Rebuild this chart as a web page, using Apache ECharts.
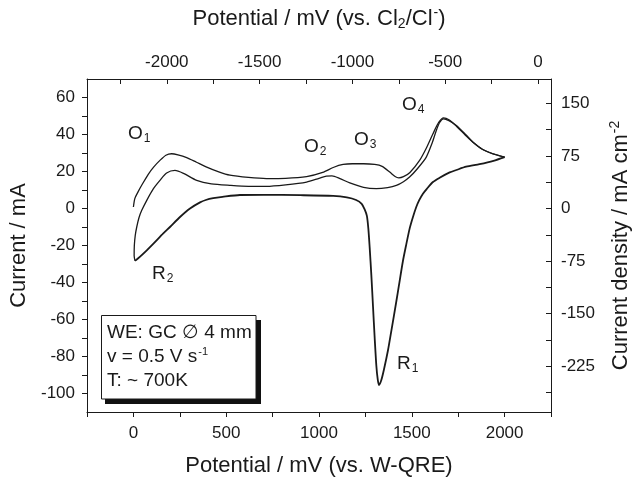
<!DOCTYPE html>
<html>
<head>
<meta charset="utf-8">
<script src="https://cdn.jsdelivr.net/npm/echarts@6/dist/echarts.min.js"></script>
<style>
  html, body { margin: 0; padding: 0; background: #fff; }
  #main { width: 635px; height: 478px; }
</style>
</head>
<body>
<div id="main"></div>
<script>
// first forward sweep (upper branch), potential mV vs W-QRE / current mA
var sweep1Forward = [
  [0, 0.8], [8, 5.5], [25, 9], [50, 13.5], [80, 18.5], [110, 22.5], [143, 26], [175, 28.8],
  [206, 29.6], [240, 29], [287, 27.5], [340, 25], [395, 22.4], [460, 19.8], [520, 18],
  [620, 16.8], [717, 16.2], [820, 16.3], [933, 17.2], [1020, 19.5], [1080, 22.3], [1130, 23.8],
  [1180, 24.2], [1240, 24.2], [1300, 23.8], [1340, 22.8], [1381, 19.7], [1410, 17.3],
  [1430, 16.6], [1455, 17.2], [1490, 19.5], [1542, 26], [1580, 33], [1614, 40.4], [1645, 46.5],
  [1671, 49], [1700, 48], [1740, 44.5], [1790, 39.5], [1829, 35.8], [1880, 32], [1937, 29.5],
  [2000, 27.8]
];
// reverse sweep (R1 and R2)
var sweepReverse = [
  [2000, 27.8], [1940, 25.8], [1865, 24], [1793, 22.6], [1740, 20.8], [1704, 19.5],
  [1650, 16.6], [1614, 14.3], [1580, 10.5], [1560, 8], [1540, 4.5], [1524, 0.8], [1505, -5],
  [1488, -11], [1470, -19.5], [1452, -28.5], [1430, -42], [1417, -50], [1390, -66],
  [1372, -76.5], [1350, -87], [1335, -93], [1323, -95.4], [1316, -92], [1309, -85],
  [1300, -70], [1291, -53], [1282, -36], [1273, -21], [1266, -11], [1258, -4], [1246, -0.5],
  [1230, 2.5], [1200, 4.6], [1150, 6], [1076, 6.8], [900, 7.2], [700, 7.4], [574, 7.3],
  [480, 6.3], [430, 5.6], [390, 4.6], [359, 3.3], [305, 0], [251, -4.6], [197, -10],
  [161, -13.5], [108, -19], [72, -22.6], [36, -26], [9, -28.3]
];
// second forward sweep (middle branch)
var sweep2Forward = [
  [9, -28.3], [4, -25.5], [5, -20], [10, -14.5], [18, -10], [30, -5], [45, -1], [72, 4.4],
  [108, 10.7], [143, 15.2], [179, 19.2], [224, 20.6], [270, 19], [341, 15.2], [420, 13.3],
  [520, 12.5], [620, 12], [717, 12], [820, 12.8], [933, 14.3], [1000, 16.3], [1040, 17.5],
  [1070, 17.6], [1110, 16.3], [1166, 13.8], [1240, 11.4], [1309, 10.7], [1370, 11.3],
  [1417, 12.5], [1455, 14.5], [1488, 17], [1530, 21.5], [1578, 27.8], [1610, 35.5],
  [1632, 42.2], [1650, 46.5], [1671, 48.5], [1700, 47.5], [1740, 44.9], [1790, 40],
  [1829, 35.9], [1880, 32], [1937, 29.6], [2000, 27.8]
];

// tick values
var bottomLabels = [0, 500, 1000, 1500, 2000];
var bottomTicks = [-250, 0, 250, 500, 750, 1000, 1250, 1500, 1750, 2000, 2250];
var topLabels = [-2000, -1500, -1000, -500, 0];
var topTicks = [-2250, -2000, -1750, -1500, -1250, -1000, -750, -500, -250, 0];
var leftLabels = [-100, -80, -60, -40, -20, 0, 20, 40, 60];
var leftTicks = [-100, -90, -80, -70, -60, -50, -40, -30, -20, -10, 0, 10, 20, 30, 40, 50, 60];
var rightLabels = [-225, -150, -75, 0, 75, 150];
var rightTicks = [-262.5, -225, -187.5, -150, -112.5, -75, -37.5, 0, 37.5, 75, 112.5, 150];

var refShift = 2180;      // W-QRE -> Cl2/Cl-
var densityFactor = 2.64; // mA -> mA cm-2 scale used on the right axis

var font = 'Liberation Sans, Arial, Helvetica, sans-serif';
var ink = '#1a1a1a';

var myChart = echarts.init(document.getElementById('main'), null, { renderer: 'canvas' });

function plain(v) { return String(v); }

function lineSeries(data, w) {
  return {
    type: 'line',
    data: data,
    xAxisIndex: 0,
    yAxisIndex: 0,
    showSymbol: false,
    smooth: 0.25,
    lineStyle: { color: ink, width: w },
    animation: false
  };
}

function peakLabel(main, sub, x, y) {
  return {
    type: 'text',
    left: x,
    top: y,
    style: {
      text: '{m|' + main + '}{s|' + sub + '}',
      font: '19px ' + font,
      fill: ink,
      rich: {
        m: { fontSize: 19, fontFamily: font, fill: ink },
        s: { fontSize: 12, fontFamily: font, fill: ink, padding: [10, 0, 0, 1] }
      }
    }
  };
}

var tickFont = { fontSize: 17, fontFamily: font, color: ink, formatter: plain };
var axisNameStyle = { fontSize: 22, fontFamily: font, color: ink };

var option = {
  backgroundColor: '#fff',
  animation: false,
  grid: { left: 87, right: 84, top: 79, bottom: 66, containLabel: false, outerBoundsMode: 'none' },
  xAxis: [
    {
      type: 'value', position: 'bottom', min: -250, max: 2250,
      axisLine: { show: true, onZero: false, lineStyle: { color: ink, width: 1 } },
      axisTick: { show: true, inside: false, length: 5, customValues: bottomTicks, lineStyle: { color: ink } },
      axisLabel: Object.assign({ customValues: bottomLabels, margin: 13 }, tickFont),
      splitLine: { show: false },
      name: 'Potential / mV (vs. W-QRE)', nameLocation: 'middle', nameGap: 43,
      nameTextStyle: axisNameStyle
    },
    {
      type: 'value', position: 'top', min: -250 - refShift, max: 2250 - refShift,
      axisLine: { show: true, onZero: false, lineStyle: { color: ink, width: 1 } },
      axisTick: { show: true, inside: true, length: 5, customValues: topTicks, lineStyle: { color: ink } },
      axisLabel: Object.assign({ customValues: topLabels, margin: 8 }, tickFont),
      splitLine: { show: false },
      name: '{t|Potential / mV (vs. Cl}{sub|2}{t|/Cl}{sup|-}{t|)}', nameLocation: 'middle', nameGap: 48,
      nameTextStyle: {
        fontSize: 22, fontFamily: font, color: ink,
        rich: {
          t: { fontSize: 22, fontFamily: font, color: ink },
          sub: { fontSize: 14, fontFamily: font, color: ink, padding: [11, 0, 0, 0] },
          sup: { fontSize: 14, fontFamily: font, color: ink, padding: [0, 0, 11, 1] }
        }
      }
    }
  ],
  yAxis: [
    {
      type: 'value', position: 'left', min: -110, max: 70,
      axisLine: { show: true, onZero: false, lineStyle: { color: ink, width: 1 } },
      axisTick: { show: true, inside: false, length: 5, customValues: leftTicks, lineStyle: { color: ink } },
      axisLabel: Object.assign({ customValues: leftLabels, margin: 12 }, tickFont),
      splitLine: { show: false },
      name: 'Current / mA', nameLocation: 'middle', nameGap: 42, nameRotate: 90,
      nameTextStyle: axisNameStyle
    },
    {
      type: 'value', position: 'right', min: -110 * densityFactor, max: 70 * densityFactor,
      alignTicks: false,
      axisLine: { show: true, onZero: false, lineStyle: { color: ink, width: 1 } },
      axisTick: { show: true, inside: true, length: 5, customValues: rightTicks, lineStyle: { color: ink } },
      axisLabel: Object.assign({ customValues: rightLabels, margin: 10 }, tickFont),
      splitLine: { show: false },
      name: '{t|Current density / mA cm}{sup|-2}', nameLocation: 'middle', nameGap: 57, nameRotate: 90,
      nameTextStyle: {
        fontSize: 22, fontFamily: font, color: ink,
        rich: {
          t: { fontSize: 22, fontFamily: font, color: ink },
          sup: { fontSize: 14, fontFamily: font, color: ink, padding: [0, 0, 11, 1] }
        }
      }
    }
  ],
  series: [
    lineSeries(sweep1Forward, 1.3),
    lineSeries(sweepReverse, 1.8),
    lineSeries(sweep2Forward, 1.3)
  ],
  graphic: [
    peakLabel('O', '1', 128, 124),
    peakLabel('O', '2', 304, 137),
    peakLabel('O', '3', 354, 130),
    peakLabel('O', '4', 402, 95),
    peakLabel('R', '2', 152, 264),
    peakLabel('R', '1', 397, 354),
    // info box with shadow
    { type: 'rect', shape: { x: 105, y: 320, width: 156, height: 84 }, style: { fill: '#111' } },
    { type: 'rect', shape: { x: 101.5, y: 315.5, width: 154.5, height: 83.5 }, style: { fill: '#fff', stroke: ink, lineWidth: 1 } },
    {
      type: 'text', left: 107, top: 323,
      style: { text: 'WE: GC \u2205 4 mm', font: '19px ' + font, fill: ink }
    },
    {
      type: 'text', left: 107, top: 346,
      style: {
        text: '{t|v = 0.5 V s}{sup|-1}',
        font: '19px ' + font, fill: ink,
        rich: {
          t: { fontSize: 19, fontFamily: font, fill: ink },
          sup: { fontSize: 11, fontFamily: font, fill: ink, padding: [0, 0, 10, 1] }
        }
      }
    },
    {
      type: 'text', left: 107, top: 371,
      style: { text: 'T: ~ 700K', font: '19px ' + font, fill: ink }
    }
  ]
};

myChart.setOption(option);
</script>
</body>
</html>
